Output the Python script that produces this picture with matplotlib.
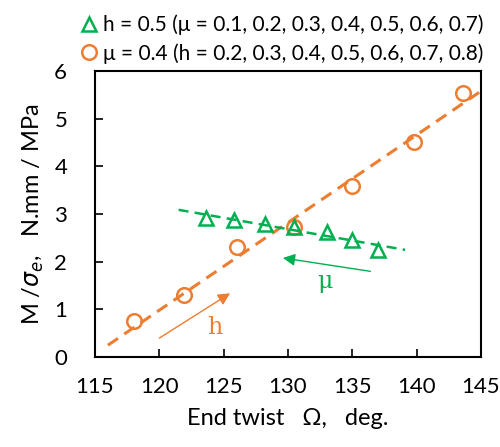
import matplotlib
matplotlib.use("Agg")
import matplotlib.pyplot as plt
from matplotlib.lines import Line2D

plt.rcParams['font.family'] = ['Lato', 'DejaVu Sans']
plt.rcParams['mathtext.fontset'] = 'dejavusans'

ORANGE = '#ED7D31'
GREEN = '#00B050'

# mu = 0.4, varying h
twist_h = [118.0, 121.9, 126.0, 130.5, 135.0, 139.8, 143.6]
moment_h = [0.75, 1.30, 2.30, 2.72, 3.60, 4.52, 5.53]
fit_h_x = [116.0, 145.0]
fit_h_y = [0.25, 5.58]

# h = 0.5, varying mu
twist_mu = [123.6, 125.8, 128.2, 130.5, 133.0, 135.0, 137.0]
moment_mu = [2.92, 2.87, 2.80, 2.72, 2.62, 2.45, 2.25]
fit_mu_x = [121.5, 139.1]
fit_mu_y = [3.09, 2.25]

x_ticks = [115, 120, 125, 130, 135, 140, 145]
y_ticks = [0, 1, 2, 3, 4, 5, 6]

fig = plt.figure(figsize=(5.0, 4.47), dpi=100)
ax = fig.add_axes([0.19, 0.201, 0.772, 0.640])

ax.plot(fit_h_x, fit_h_y, color=ORANGE, lw=2.2, dashes=(4, 2.5))
ax.plot(fit_mu_x, fit_mu_y, color=GREEN, lw=1.8, dashes=(4, 2.5))
ax.plot(twist_h, moment_h, 'o', ms=10.5, mfc='none', mec=ORANGE, mew=1.8)
ax.plot(twist_mu, moment_mu, '^', ms=10.5, mfc='none', mec=GREEN, mew=1.8)

ax.annotate('', xy=(125.5, 1.34), xytext=(120.0, 0.40),
            arrowprops=dict(arrowstyle='-|>', color=ORANGE, lw=1.0,
                            mutation_scale=18, shrinkA=0, shrinkB=0))
ax.text(124.3, 0.63, 'h', color=ORANGE, fontsize=17, family='DejaVu Serif',
        ha='center', va='center')
ax.annotate('', xy=(129.6, 2.08), xytext=(136.4, 1.80),
            arrowprops=dict(arrowstyle='-|>', color=GREEN, lw=1.0,
                            mutation_scale=18, shrinkA=0, shrinkB=0))
ax.text(132.9, 1.58, 'μ', color=GREEN, fontsize=17, family='DejaVu Serif',
        ha='center', va='center')

ax.set_xlim(115, 145)
ax.set_ylim(0, 6)
ax.set_xticks(x_ticks)
ax.set_yticks(y_ticks)
ax.tick_params(direction='in', length=6, width=1.2, labelsize=16)
ax.tick_params(axis='x', pad=14)
ax.tick_params(axis='y', pad=20)
for s in ax.spines.values():
    s.set_linewidth(1.5)

ax.set_xlabel('End twist   Ω,   deg.', fontsize=17, labelpad=8)
ax.set_ylabel('M /$\\sigma_e$,   N.mm / MPa', fontsize=17, labelpad=6)

handles = [
    Line2D([], [], marker='^', ls='none', ms=10.5, mfc='none', mec=GREEN, mew=1.8),
    Line2D([], [], marker='o', ls='none', ms=10.5, mfc='none', mec=ORANGE, mew=1.8),
]
labels = ['h = 0.5 (μ = 0.1, 0.2, 0.3, 0.4, 0.5, 0.6, 0.7)',
          'μ = 0.4 (h = 0.2, 0.3, 0.4, 0.5, 0.6, 0.7, 0.8)']
fig.legend(handles, labels, loc='upper right', bbox_to_anchor=(0.997, 1.0),
           frameon=False, fontsize=15, handlelength=0.8, handletextpad=0.3,
           labelspacing=0.38, borderpad=0.2)

fig.savefig('out.png', dpi=100)
